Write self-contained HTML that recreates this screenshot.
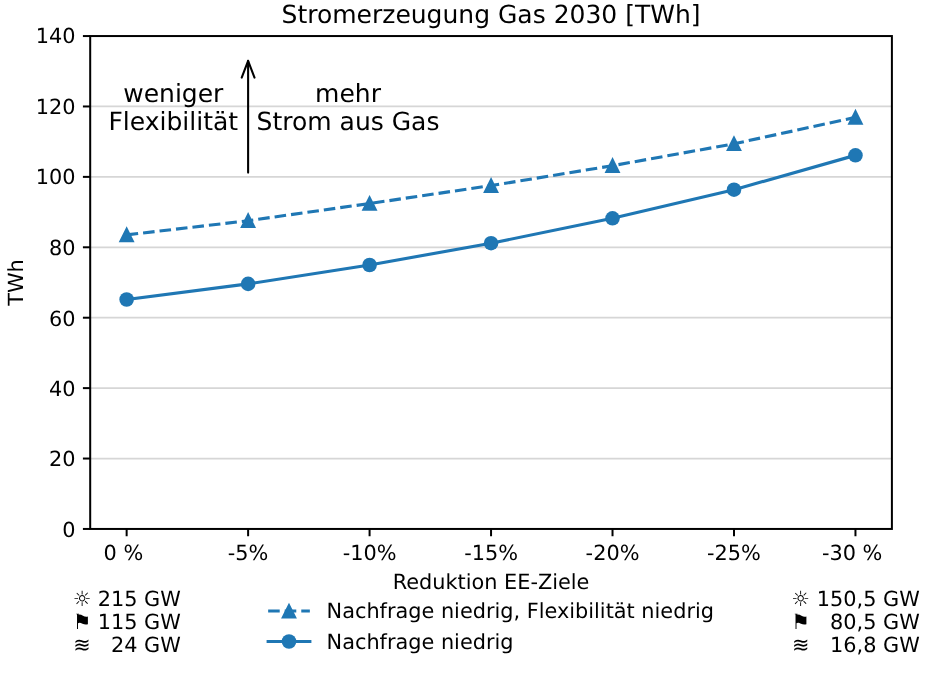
<!DOCTYPE html>
<html lang="de"><head><meta charset="utf-8"><title>Stromerzeugung Gas 2030 [TWh]</title>
<style>
html,body{margin:0;padding:0;background:#fff;}
body{width:944px;height:678px;overflow:hidden;}
svg{display:block;}
text{font-family:"DejaVu Sans","Liberation Sans",sans-serif;fill:#000;text-rendering:geometricPrecision;}
.t{font-size:20.833px;}
.b{font-size:25.000px;}
</style></head><body>
<svg width="944" height="678" viewBox="0 0 944 678">
<rect width="944" height="678" fill="#fff"/>
<g stroke="#d6d6d6" stroke-width="1.800">
<line x1="90.20" x2="891.90" y1="458.54" y2="458.54"/>
<line x1="90.20" x2="891.90" y1="388.12" y2="388.12"/>
<line x1="90.20" x2="891.90" y1="317.71" y2="317.71"/>
<line x1="90.20" x2="891.90" y1="247.29" y2="247.29"/>
<line x1="90.20" x2="891.90" y1="176.88" y2="176.88"/>
<line x1="90.20" x2="891.90" y1="106.46" y2="106.46"/>
</g>
<g stroke="#000" stroke-width="2.000">
<line x1="82.91" x2="90.20" y1="528.95" y2="528.95"/>
<line x1="82.91" x2="90.20" y1="458.54" y2="458.54"/>
<line x1="82.91" x2="90.20" y1="388.12" y2="388.12"/>
<line x1="82.91" x2="90.20" y1="317.71" y2="317.71"/>
<line x1="82.91" x2="90.20" y1="247.29" y2="247.29"/>
<line x1="82.91" x2="90.20" y1="176.88" y2="176.88"/>
<line x1="82.91" x2="90.20" y1="106.46" y2="106.46"/>
<line x1="82.91" x2="90.20" y1="36.05" y2="36.05"/>
<line x1="126.64" x2="126.64" y1="528.95" y2="536.24"/>
<line x1="248.11" x2="248.11" y1="528.95" y2="536.24"/>
<line x1="369.58" x2="369.58" y1="528.95" y2="536.24"/>
<line x1="491.05" x2="491.05" y1="528.95" y2="536.24"/>
<line x1="612.52" x2="612.52" y1="528.95" y2="536.24"/>
<line x1="733.99" x2="733.99" y1="528.95" y2="536.24"/>
<line x1="855.46" x2="855.46" y1="528.95" y2="536.24"/>
</g>
<text class="t" transform="translate(75.62,537.00)" text-anchor="end">0</text>
<text class="t" transform="translate(75.62,466.00)" text-anchor="end">20</text>
<text class="t" transform="translate(75.62,396.00)" text-anchor="end">40</text>
<text class="t" transform="translate(75.62,326.00)" text-anchor="end">60</text>
<text class="t" transform="translate(75.62,255.00)" text-anchor="end">80</text>
<text class="t" transform="translate(75.62,184.00)" text-anchor="end">100</text>
<text class="t" transform="translate(75.62,114.00)" text-anchor="end">120</text>
<text class="t" transform="translate(75.62,43.00)" text-anchor="end">140</text>
<text class="t" transform="translate(123.34,559.67)" text-anchor="middle">0 %</text>
<text class="t" transform="translate(248.11,559.67)" text-anchor="middle">-5%</text>
<text class="t" transform="translate(369.58,559.67)" text-anchor="middle">-10%</text>
<text class="t" transform="translate(491.05,559.67)" text-anchor="middle">-15%</text>
<text class="t" transform="translate(612.52,559.67)" text-anchor="middle">-20%</text>
<text class="t" transform="translate(733.99,559.67)" text-anchor="middle">-25%</text>
<text class="t" transform="translate(852.16,559.67)" text-anchor="middle">-30 %</text>
<text class="b" transform="translate(173.30,101.90)" text-anchor="middle">weniger</text>
<text class="b" transform="translate(173.30,129.90)" text-anchor="middle">Flexibilität</text>
<text class="b" transform="translate(348.00,101.90)" text-anchor="middle">mehr</text>
<text class="b" transform="translate(348.00,129.90)" text-anchor="middle">Strom aus Gas</text>
<g stroke="#000" stroke-width="2.083" fill="none" stroke-linecap="round" stroke-linejoin="round">
<path d="M248.11 172.6 L248.11 60.9"/>
<path d="M241.71 77.6 L248.11 60.9 L254.51 77.6"/>
</g>
<polyline points="126.64,234.85 248.11,220.70 369.58,203.50 491.05,185.60 612.52,165.70 733.99,143.80 855.46,117.40" fill="none" stroke="#1f77b4" stroke-width="3.125" stroke-dasharray="11.5625 5" stroke-linejoin="round"/>
<polyline points="126.64,299.50 248.11,283.90 369.58,265.00 491.05,243.20 612.52,218.30 733.99,189.70 855.46,155.30" fill="none" stroke="#1f77b4" stroke-width="3.125" stroke-linejoin="round" stroke-linecap="square"/>
<path d="M126.64 228.60 L120.39 241.10 L132.89 241.10 Z" fill="#1f77b4" stroke="#1f77b4" stroke-width="2.083" stroke-linejoin="miter"/>
<path d="M248.11 214.45 L241.86 226.95 L254.36 226.95 Z" fill="#1f77b4" stroke="#1f77b4" stroke-width="2.083" stroke-linejoin="miter"/>
<path d="M369.58 197.25 L363.33 209.75 L375.83 209.75 Z" fill="#1f77b4" stroke="#1f77b4" stroke-width="2.083" stroke-linejoin="miter"/>
<path d="M491.05 179.35 L484.80 191.85 L497.30 191.85 Z" fill="#1f77b4" stroke="#1f77b4" stroke-width="2.083" stroke-linejoin="miter"/>
<path d="M612.52 159.45 L606.27 171.95 L618.77 171.95 Z" fill="#1f77b4" stroke="#1f77b4" stroke-width="2.083" stroke-linejoin="miter"/>
<path d="M733.99 137.55 L727.74 150.05 L740.24 150.05 Z" fill="#1f77b4" stroke="#1f77b4" stroke-width="2.083" stroke-linejoin="miter"/>
<path d="M855.46 111.15 L849.21 123.65 L861.71 123.65 Z" fill="#1f77b4" stroke="#1f77b4" stroke-width="2.083" stroke-linejoin="miter"/>
<circle cx="126.64" cy="299.50" r="7.29" fill="#1f77b4"/>
<circle cx="248.11" cy="283.90" r="7.29" fill="#1f77b4"/>
<circle cx="369.58" cy="265.00" r="7.29" fill="#1f77b4"/>
<circle cx="491.05" cy="243.20" r="7.29" fill="#1f77b4"/>
<circle cx="612.52" cy="218.30" r="7.29" fill="#1f77b4"/>
<circle cx="733.99" cy="189.70" r="7.29" fill="#1f77b4"/>
<circle cx="855.46" cy="155.30" r="7.29" fill="#1f77b4"/>
<rect x="90.20" y="36.05" width="801.70" height="492.90" fill="none" stroke="#000" stroke-width="2.000" stroke-linejoin="miter"/>
<text class="b" transform="translate(491.05,23.40)" text-anchor="middle">Stromerzeugung Gas 2030 [TWh]</text>
<text class="t" transform="translate(491.05,588.90)" text-anchor="middle">Reduktion EE-Ziele</text>
<text class="t" transform="translate(23.00,282.50) rotate(-90)" text-anchor="middle">TWh</text>
<line x1="268.15" x2="309.85" y1="611.00" y2="611.00" stroke="#1f77b4" stroke-width="3.125" stroke-dasharray="11.5625 5"/>
<path d="M289.00 605.05 L282.75 617.55 L295.25 617.55 Z" fill="#1f77b4" stroke="#1f77b4" stroke-width="2.083" stroke-linejoin="miter"/>
<line x1="268.15" x2="309.85" y1="641.50" y2="641.50" stroke="#1f77b4" stroke-width="3.125" stroke-linecap="square"/>
<circle cx="289.00" cy="641.50" r="7.29" fill="#1f77b4"/>
<text class="t" transform="translate(326.60,618.20)">Nachfrage niedrig, Flexibilität niedrig</text>
<text class="t" transform="translate(326.60,649.20)">Nachfrage niedrig</text>
<text class="t" transform="translate(72.70,606.20)">☼</text>
<text class="t" transform="translate(180.80,606.20)" text-anchor="end">215 GW</text>
<text class="t" transform="translate(791.20,606.20)">☼</text>
<text class="t" transform="translate(919.80,606.20)" text-anchor="end">150,5 GW</text>
<text class="t" transform="translate(72.70,629.40)">⚑</text>
<text class="t" transform="translate(180.80,629.40)" text-anchor="end">115 GW</text>
<text class="t" transform="translate(791.20,629.40)">⚑</text>
<text class="t" transform="translate(919.80,629.40)" text-anchor="end">80,5 GW</text>
<text class="t" transform="translate(73.20,652.40)">≋</text>
<text class="t" transform="translate(180.80,652.40)" text-anchor="end">24 GW</text>
<text class="t" transform="translate(792.00,652.40)">≋</text>
<text class="t" transform="translate(919.80,652.40)" text-anchor="end">16,8 GW</text>
</svg></body></html>
